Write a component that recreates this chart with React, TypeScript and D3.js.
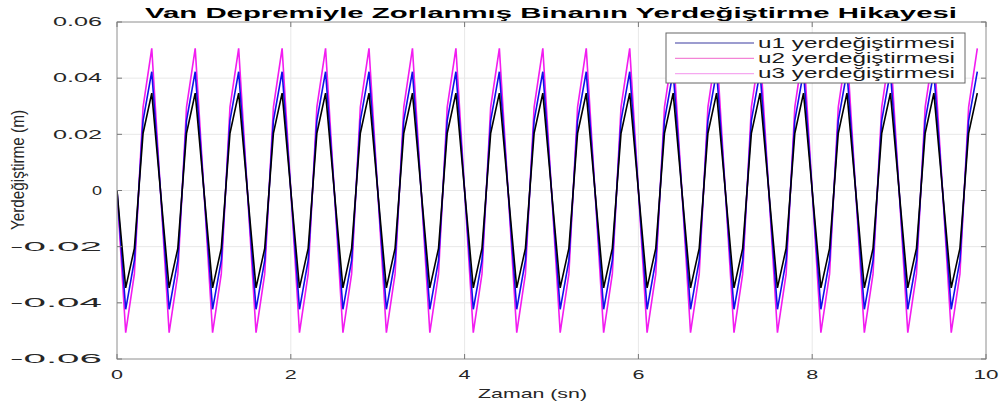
import React from 'react';
import * as d3 from 'd3';

const time = [
  0, 0.1, 0.2, 0.3, 0.4, 0.5, 0.6, 0.7, 0.8, 0.9,
  1, 1.1, 1.2, 1.3, 1.4, 1.5, 1.6, 1.7, 1.8, 1.9,
  2, 2.1, 2.2, 2.3, 2.4, 2.5, 2.6, 2.7, 2.8, 2.9,
  3, 3.1, 3.2, 3.3, 3.4, 3.5, 3.6, 3.7, 3.8, 3.9,
  4, 4.1, 4.2, 4.3, 4.4, 4.5, 4.6, 4.7, 4.8, 4.9,
  5, 5.1, 5.2, 5.3, 5.4, 5.5, 5.6, 5.7, 5.8, 5.9,
  6, 6.1, 6.2, 6.3, 6.4, 6.5, 6.6, 6.7, 6.8, 6.9,
  7, 7.1, 7.2, 7.3, 7.4, 7.5, 7.6, 7.7, 7.8, 7.9,
  8, 8.1, 8.2, 8.3, 8.4, 8.5, 8.6, 8.7, 8.8, 8.9,
  9, 9.1, 9.2, 9.3, 9.4, 9.5, 9.6, 9.7, 9.8, 9.9,
];

// u1 (blue)
const u1 = [
  0, -0.0423, -0.0249, 0.0249, 0.0423, 0, -0.0423, -0.0249, 0.0249, 0.0423,
  0, -0.0423, -0.0249, 0.0249, 0.0423, 0, -0.0423, -0.0249, 0.0249, 0.0423,
  0, -0.0423, -0.0249, 0.0249, 0.0423, 0, -0.0423, -0.0249, 0.0249, 0.0423,
  0, -0.0423, -0.0249, 0.0249, 0.0423, 0, -0.0423, -0.0249, 0.0249, 0.0423,
  0, -0.0423, -0.0249, 0.0249, 0.0423, 0, -0.0423, -0.0249, 0.0249, 0.0423,
  0, -0.0423, -0.0249, 0.0249, 0.0423, 0, -0.0423, -0.0249, 0.0249, 0.0423,
  0, -0.0423, -0.0249, 0.0249, 0.0423, 0, -0.0423, -0.0249, 0.0249, 0.0423,
  0, -0.0423, -0.0249, 0.0249, 0.0423, 0, -0.0423, -0.0249, 0.0249, 0.0423,
  0, -0.0423, -0.0249, 0.0249, 0.0423, 0, -0.0423, -0.0249, 0.0249, 0.0423,
  0, -0.0423, -0.0249, 0.0249, 0.0423, 0, -0.0423, -0.0249, 0.0249, 0.0423,
];

// u2 (magenta)
const u2 = [
  0, -0.0506, -0.0297, 0.0297, 0.0506, 0, -0.0506, -0.0297, 0.0297, 0.0506,
  0, -0.0506, -0.0297, 0.0297, 0.0506, 0, -0.0506, -0.0297, 0.0297, 0.0506,
  0, -0.0506, -0.0297, 0.0297, 0.0506, 0, -0.0506, -0.0297, 0.0297, 0.0506,
  0, -0.0506, -0.0297, 0.0297, 0.0506, 0, -0.0506, -0.0297, 0.0297, 0.0506,
  0, -0.0506, -0.0297, 0.0297, 0.0506, 0, -0.0506, -0.0297, 0.0297, 0.0506,
  0, -0.0506, -0.0297, 0.0297, 0.0506, 0, -0.0506, -0.0297, 0.0297, 0.0506,
  0, -0.0506, -0.0297, 0.0297, 0.0506, 0, -0.0506, -0.0297, 0.0297, 0.0506,
  0, -0.0506, -0.0297, 0.0297, 0.0506, 0, -0.0506, -0.0297, 0.0297, 0.0506,
  0, -0.0506, -0.0297, 0.0297, 0.0506, 0, -0.0506, -0.0297, 0.0297, 0.0506,
  0, -0.0506, -0.0297, 0.0297, 0.0506, 0, -0.0506, -0.0297, 0.0297, 0.0506,
];

// u3 (black)
const u3 = [
  0, -0.0347, -0.0206, 0.0204, 0.0347, 0, -0.0347, -0.0206, 0.0204, 0.0347,
  0, -0.0347, -0.0206, 0.0204, 0.0347, 0, -0.0347, -0.0206, 0.0204, 0.0347,
  0, -0.0347, -0.0206, 0.0204, 0.0347, 0, -0.0347, -0.0206, 0.0204, 0.0347,
  0, -0.0347, -0.0206, 0.0204, 0.0347, 0, -0.0347, -0.0206, 0.0204, 0.0347,
  0, -0.0347, -0.0206, 0.0204, 0.0347, 0, -0.0347, -0.0206, 0.0204, 0.0347,
  0, -0.0347, -0.0206, 0.0204, 0.0347, 0, -0.0347, -0.0206, 0.0204, 0.0347,
  0, -0.0347, -0.0206, 0.0204, 0.0347, 0, -0.0347, -0.0206, 0.0204, 0.0347,
  0, -0.0347, -0.0206, 0.0204, 0.0347, 0, -0.0347, -0.0206, 0.0204, 0.0347,
  0, -0.0347, -0.0206, 0.0204, 0.0347, 0, -0.0347, -0.0206, 0.0204, 0.0347,
  0, -0.0347, -0.0206, 0.0204, 0.0347, 0, -0.0347, -0.0206, 0.0204, 0.0347,
];

const xTicks = [0, 2, 4, 6, 8, 10];
const xTickLabels = ['0', '2', '4', '6', '8', '10'];
const yTicks = [-0.06, -0.04, -0.02, 0, 0.02, 0.04, 0.06];
const yTickLabels = ['-0.06', '-0.04', '-0.02', '0', '0.02', '0.04', '0.06'];
const legendLabels = ['u1 yerdeğiştirmesi', 'u2 yerdeğiştirmesi', 'u3 yerdeğiştirmesi'];
const titleText = 'Van Depremiyle Zorlanmış Binanın Yerdeğiştirme Hikayesi';
const xLabelText = 'Zaman (sn)';
const yLabelText = 'Yerdeğiştirme (m)';

const W = 1000;
const H = 407;
const L = 117, R = 986, T = 22, B = 359;
const FONT = '"Liberation Sans", Arial, Helvetica, sans-serif';

export default function App() {
  const x = d3.scaleLinear().domain([0, 10]).range([L, R]);
  const y = d3.scaleLinear().domain([-0.06, 0.06]).range([B, T]);
  const mk = (vals: number[]) =>
    d3.line<number>().x((_, i) => x(time[i])).y((v) => y(v))(vals) || '';

  const series = [
    { vals: u2, color: '#f21cf0', width: 1.6 },
    { vals: u1, color: '#1010e8', width: 1.6 },
    { vals: u3, color: '#000000', width: 1.6 },
  ];
  const legendColors = ['#3a3aa0', '#f384d6', '#f5a8f0'];
  const tickLen = 5;

  const yLabW = (s: string) => (s === '0' ? 10 : s.startsWith('-') ? 92 : 49);

  return (
    <svg width={W} height={H} style={{ position: 'absolute', left: 0, top: 0, background: '#fff' }}
      fontFamily={FONT}>
      <rect x={0} y={0} width={W} height={H} fill="#fff" />
      {xTicks.map((t) => (
        <line key={'gx' + t} x1={x(t)} x2={x(t)} y1={T} y2={B} stroke="#e8e8e8" strokeWidth={1} />
      ))}
      {yTicks.map((t) => (
        <line key={'gy' + t} x1={L} x2={R} y1={y(t)} y2={y(t)} stroke="#e8e8e8" strokeWidth={1} />
      ))}
      <defs>
        <clipPath id="clip">
          <rect x={L} y={T} width={R - L} height={B - T} />
        </clipPath>
      </defs>
      <g clipPath="url(#clip)">
        {series.map((s, i) => (
          <path key={i} d={mk(s.vals)} fill="none" stroke={s.color} strokeWidth={s.width}
            strokeLinejoin="miter" />
        ))}
      </g>
      <rect x={L} y={T} width={R - L} height={B - T} fill="none" stroke="#9a9a9a" strokeWidth={1} />
      {xTicks.map((t) => (
        <g key={'tx' + t}>
          <line x1={x(t)} x2={x(t)} y1={B} y2={B - tickLen} stroke="#777" />
          <line x1={x(t)} x2={x(t)} y1={T} y2={T + tickLen} stroke="#777" />
        </g>
      ))}
      {yTicks.map((t) => (
        <g key={'ty' + t}>
          <line x1={L} x2={L + tickLen} y1={y(t)} y2={y(t)} stroke="#777" />
          <line x1={R} x2={R - tickLen} y1={y(t)} y2={y(t)} stroke="#777" />
        </g>
      ))}
      {xTicks.map((t, i) => (
        <text key={'lx' + t} x={x(t) - (xTickLabels[i].length > 1 ? 12.5 : 6)} y={379}
          fontSize={12} fill="#262626" textLength={xTickLabels[i].length > 1 ? 25 : 12}
          lengthAdjust="spacingAndGlyphs">
          {xTickLabels[i]}
        </text>
      ))}
      {yTicks.map((t, i) => (
        <text key={'ly' + t} x={102 - yLabW(yTickLabels[i])} y={y(t) + 4.3}
          fontSize={12} fill="#262626" textLength={yLabW(yTickLabels[i])}
          lengthAdjust="spacingAndGlyphs">
          {yTickLabels[i]}
        </text>
      ))}
      <text x={145} y={18} fontSize={15.5} fontWeight="bold" fill="#000" textLength={812}
        lengthAdjust="spacingAndGlyphs">
        {titleText}
      </text>
      <text x={478} y={398} fontSize={13} fill="#262626" textLength={109}
        lengthAdjust="spacingAndGlyphs">
        {xLabelText}
      </text>
      <text transform="translate(24,110) rotate(-90)" x={-120} y={0} fontSize={17.5}
        fill="#262626" textLength={120} lengthAdjust="spacingAndGlyphs">
        {yLabelText}
      </text>
      <rect x={666} y={33} width={299} height={50} fill="#fff" stroke="#666" strokeWidth={1} />
      {legendLabels.map((lab, i) => (
        <g key={'lg' + i}>
          <line x1={675} x2={754} y1={43 + i * 15.3} y2={43 + i * 15.3} stroke={legendColors[i]}
            strokeWidth={1.2} />
          <text x={758} y={47.5 + i * 15.3} fontSize={14} fill="#1a1a1a" textLength={197}
            lengthAdjust="spacingAndGlyphs">
            {lab}
          </text>
        </g>
      ))}
    </svg>
  );
}
